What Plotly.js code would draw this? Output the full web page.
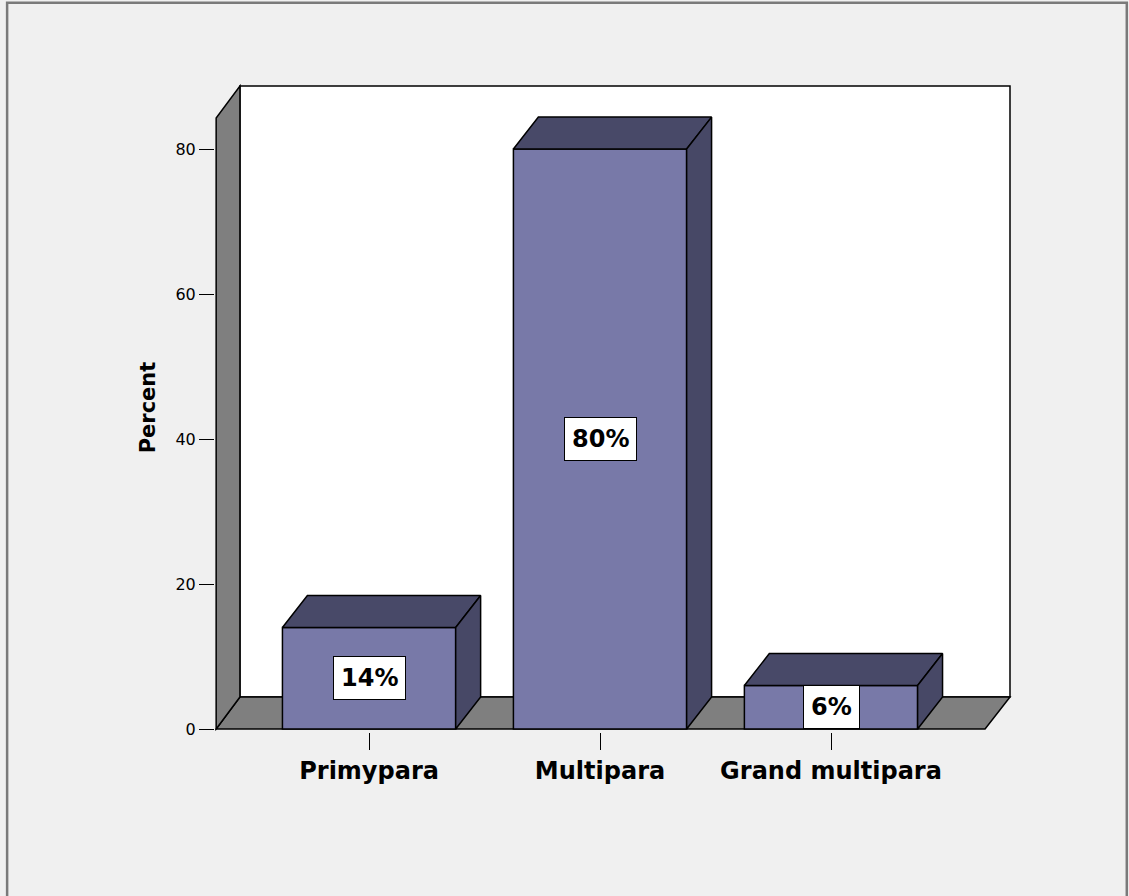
<!DOCTYPE html>
<html>
<head>
<meta charset="utf-8">
<script src="https://cdn.plot.ly/plotly-3.0.1.min.js"></script>
<style>
  html, body { margin: 0; padding: 0; background: #f0f0f0; }
  #chart { width: 1129px; height: 896px; }
</style>
</head>
<body>
<div id="chart"></div>
<script>
// ---- data ----
const categories = ['Primypara', 'Multipara', 'Grand multipara'];
const percents = [14, 80, 6];
const valueLabels = ['14%', '80%', '6%'];
const yTickVals = [0, 20, 40, 60, 80];
const yTickText = ['0', '20', '40', '60', '80'];

// ---- geometry / style (not data) ----
const barW = 0.75;       // bar width in category units
const dX = 0.108;        // 3D depth, x units
const dY = 4.41;         // 3D depth, y units
const xMin = -0.667, xMax = 2.775; // back wall / floor extent
const yMax = 88.7;
const padX = 0.013, padY = 0.414;
const inset = 0.005;     // keep wall edge inside the plot area

const frontColor = '#7879a8';
const topColor = '#484968';
const sideColor = '#474866';
const wallColor = '#7f7f7f';
const edge = { color: '#000000', width: 1.5 };

const xIdx = categories.map((c, i) => i);

const traces = [];

// front faces of bars
traces.push({
  type: 'bar',
  x: xIdx,
  y: percents,
  width: barW,
  marker: { color: frontColor, line: edge },
  hoverinfo: 'skip',
  showlegend: false
});

// top and side faces
percents.forEach((v, i) => {
  const l = i - barW / 2, r = i + barW / 2;
  traces.push({
    type: 'scatter', mode: 'lines', fill: 'toself', fillcolor: topColor,
    x: [l, l + dX, r + dX, r, l],
    y: [v, v + dY, v + dY, v, v],
    line: edge, hoverinfo: 'skip', showlegend: false
  });
  traces.push({
    type: 'scatter', mode: 'lines', fill: 'toself', fillcolor: sideColor,
    x: [r, r + dX, r + dX, r, r],
    y: [0, dY, v + dY, v, 0],
    line: edge, hoverinfo: 'skip', showlegend: false
  });
});

const xL = xMin + inset;
const shapes = [
  // back wall
  { type: 'rect', xref: 'x', yref: 'y', layer: 'below',
    x0: xMin + dX, x1: xMax, y0: dY, y1: yMax,
    fillcolor: '#ffffff', line: edge },
  // floor
  { type: 'path', xref: 'x', yref: 'y', layer: 'below',
    path: `M ${xL},0 L ${xMin + dX},${dY} L ${xMax},${dY} L ${xMax - dX},0 Z`,
    fillcolor: wallColor, line: edge },
  // left wall
  { type: 'path', xref: 'x', yref: 'y', layer: 'below',
    path: `M ${xL},0 L ${xL},${yMax - dY} L ${xMin + dX},${yMax} L ${xMin + dX},${dY} Z`,
    fillcolor: wallColor, line: edge },
  // outer frame
  { type: 'rect', xref: 'paper', yref: 'paper', layer: 'above',
    x0: -0.2605, x1: 1.1426, y0: -0.6, y1: 1.1235,
    line: { color: '#7a7a7a', width: 2.5 }, fillcolor: 'rgba(0,0,0,0)' }
];

const annotations = percents.map((v, i) => ({
  x: i, y: v / 2, xref: 'x', yref: 'y',
  text: '<b>' + valueLabels[i] + '</b>',
  showarrow: false,
  bgcolor: '#ffffff', bordercolor: '#000000', borderwidth: 1, borderpad: 7,
  font: { family: 'DejaVu Sans', size: 24, color: '#000000' }
}));

const layout = {
  width: 1129, height: 896,
  margin: { l: 215, r: 116, t: 83, b: 164 },
  paper_bgcolor: '#f0f0f0',
  plot_bgcolor: '#f0f0f0',
  showlegend: false,
  xaxis: {
    range: [xMin, xMax + padX],
    tickvals: xIdx,
    ticktext: categories.map(c => '<b>' + c + '</b>'),
    ticks: 'outside', ticklen: 17, tickwidth: 1, tickcolor: '#000000',
    showgrid: false, zeroline: false, showline: false,
    tickfont: { family: 'DejaVu Sans', size: 24, color: '#000000' },
    fixedrange: true
  },
  yaxis: {
    range: [-padY, yMax + padY],
    tickvals: yTickVals, ticktext: yTickText,
    ticks: 'outside', ticklen: 15, tickwidth: 1, tickcolor: '#000000',
    showgrid: false, zeroline: false, showline: false,
    tickfont: { family: 'DejaVu Sans', size: 16, color: '#000000' },
    title: { text: '<b>Percent</b>', standoff: 14,
             font: { family: 'DejaVu Sans', size: 21, color: '#000000' } },
    fixedrange: true
  },
  shapes: shapes,
  annotations: annotations,
  bargap: 0
};

Plotly.newPlot('chart', traces, layout, { displayModeBar: false, staticPlot: true });
</script>
</body>
</html>
